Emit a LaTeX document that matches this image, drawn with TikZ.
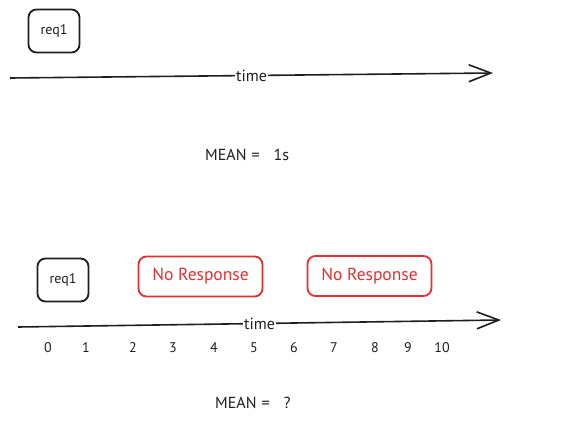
\documentclass[tikz,border=0pt]{standalone}
\usepackage{fontspec}
\setmainfont{PT Sans}
\usetikzlibrary{arrows.meta}
\definecolor{ink}{HTML}{1E1E1E}
\definecolor{exred}{HTML}{E03131}
\tikzset{
  reqbox/.style={draw=ink, line width=1.8pt, rounded corners=8pt, minimum width=51pt, minimum height=43pt, text=ink, font=\fontsize{14}{16}\selectfont, inner sep=0pt},
  nobox/.style={draw=exred, line width=1.8pt, rounded corners=8pt, minimum width=124pt, minimum height=40pt, text=exred, font=\fontsize{17.5}{20}\selectfont, inner sep=0pt},
  timeline/.style={draw=ink, line width=1.6pt, -{Straight Barb[length=22pt,width=17pt,line width=1.6pt]}},
  timelbl/.style={fill=white, inner sep=1pt, text=ink, font=\fontsize{16}{18}\selectfont},
  numlbl/.style={text=ink, font=\fontsize{14}{16}\selectfont, inner sep=0pt},
  meanlbl/.style={text=ink, font=\fontsize{16}{18}\selectfont, inner sep=0pt, anchor=west},
}
\begin{document}
\begin{tikzpicture}[x=1pt,y=-1pt]
\useasboundingbox (0,0) rectangle (566,423);
% top section
\node[reqbox] (r1) at (54,31) {req1};
\coordinate (t1s) at (10,78);
\coordinate (t1e) at (493,73);
\draw[timeline] (t1s) -- node[timelbl] (tm1) {time} (t1e);
\node[meanlbl] (m1) at (205,155) {MEAN\hspace{5pt}=\hspace{14pt}1s};
% bottom section
\node[reqbox] (r2) at (63,280) {req1};
\node[nobox] (n1) at (200.5,276.5) {No Response};
\node[nobox] (n2) at (369.5,276) {No Response};
\coordinate (t2s) at (18,327);
\coordinate (t2e) at (501,320);
\draw[timeline] (t2s) -- node[timelbl] (tm2) {time} (t2e);
\foreach \v/\x in {0/48,1/86,2/133,3/173,4/214,5/254,6/294,7/334,8/375,9/408,10/442}
  \node[numlbl] (k\v) at (\x,348) {\v};
\node[meanlbl] (m2) at (215,403) {MEAN\hspace{5pt}=\hspace{14pt}?};
\end{tikzpicture}
\end{document}
